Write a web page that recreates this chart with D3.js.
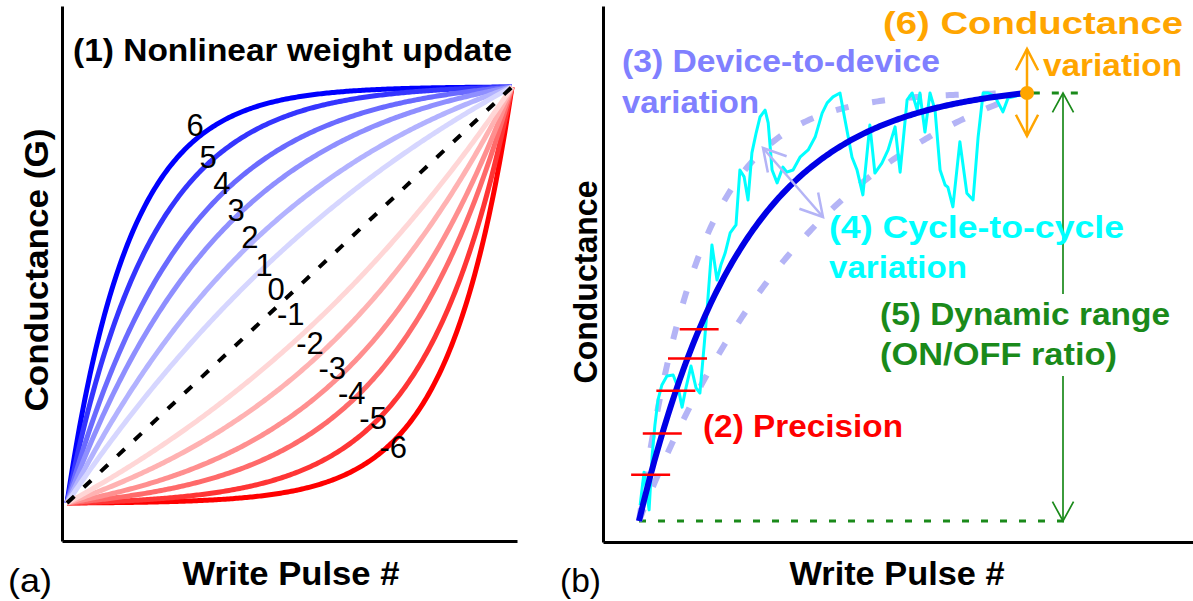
<!DOCTYPE html>
<html>
<head>
<meta charset="utf-8">
<script src="https://cdn.jsdelivr.net/npm/d3@7"></script>
<style>
  body { margin: 0; background: #fff; }
  svg { display: block; }
  text { font-family: Arial, "Liberation Sans", sans-serif; }
</style>
</head>
<body>
<svg id="fig" width="1193" height="601"></svg>
<script>
// ---------- Panel (a): nonlinear weight update ----------
// Nonlinearity label of every curve and its curvature constant (fraction of the pulse range)
const nlLabels    = [6, 5, 4, 3, 2, 1, 0, -1, -2, -3, -4, -5, -6];
const nlCurvature = [0.14, 0.19, 0.27, 0.37, 0.57, 1.0, 0, 1.0, 0.57, 0.37, 0.27, 0.19, 0.14];

// ---------- Panel (b): non-ideal device characteristics ----------
const pulseCount      = 100;
const idealCurvature  = 0.27;          // nominal device
const d2dCurvature    = [0.16, 0.50];  // fastest / slowest device
const precisionPulses = [3, 6, 9.5, 12.5, 15.5];
// one noisy programming cycle (pulse #, normalized conductance)
const c2cPulse = [0.3, 1.3, 2.6, 3.4, 4.1, 4.9, 5.9, 7.2, 8.8, 10.1, 11.1, 12.1, 13.4, 14.7, 15.7,
  16.8, 17.5, 18.8, 20.1, 21.1, 22.2, 23.5, 25.0, 26.0, 27.1, 28.1, 29.1, 30.2, 31.2, 32.5, 33.3,
  34.3, 35.6, 37.1, 38.1, 39.7, 41.5, 43.6, 45.4, 47.2, 48.5, 50.0, 51.8, 53.1, 54.9, 56.2, 57.7,
  59.5, 60.8, 62.6, 64.2, 66.0, 67.3, 69.1, 70.4, 71.7, 72.4, 73.7, 75.0, 76.3, 77.6, 78.9, 79.6,
  80.9, 82.7, 84.5, 86.1, 87.4, 88.7, 90.0, 91.8, 93.8, 95.1, 96.4];
const c2cConductance = [0.037, 0.114, 0.026, 0.154, 0.224, 0.283, 0.318, 0.339, 0.341, 0.311, 0.266,
  0.311, 0.362, 0.311, 0.299, 0.411, 0.488, 0.645, 0.563, 0.598, 0.626, 0.673, 0.692, 0.820, 0.804,
  0.750, 0.860, 0.907, 0.944, 0.960, 0.930, 0.820, 0.790, 0.827, 0.815, 0.820, 0.850, 0.867, 0.897,
  0.953, 0.977, 0.991, 1.000, 0.937, 0.850, 0.820, 0.762, 0.925, 0.813, 0.836, 0.867, 0.921, 0.815,
  0.984, 1.000, 0.960, 1.000, 0.909, 1.000, 0.960, 0.820, 0.785, 0.780, 0.734, 0.886, 0.766, 0.750,
  0.897, 1.000, 1.000, 0.991, 0.956, 0.988, 0.991];

// ---------- styling ----------
const blueShades = ["#0000ff", "#3535ff", "#6a6aff", "#8f8fff", "#b2b2ff", "#d6d6ff"];
const redShades  = ["#ffd6d6", "#ffb2b2", "#ff8f8f", "#ff6a6a", "#ff3535", "#ff0000"];
const lavender = "#8080ff", lavenderLight = "#b4b4f6";
const cyan = "#00ffff", green = "#1a8a1a", orange = "#ffa500";

const svg = d3.select("#fig");

// normalized saturating response: concave for k > 0, convex for k < 0, linear for k = 0
function response(p, a, sign) {
  if (sign === 0) return p;
  const f = q => (1 - Math.exp(-q / a)) / (1 - Math.exp(-1 / a));
  return sign > 0 ? f(p) : 1 - f(1 - p);
}

function addText(g, str, x, y, opt) {
  const t = g.append("text").attr("x", x).attr("y", y).text(str)
    .attr("font-size", opt.size).attr("font-weight", opt.bold ? "bold" : "normal")
    .attr("fill", opt.color || "#000");
  if (opt.len) t.attr("textLength", opt.len).attr("lengthAdjust", "spacingAndGlyphs");
  if (opt.anchor) t.attr("text-anchor", opt.anchor);
  if (opt.rotate) t.attr("transform", `rotate(-90,${x},${y})`);
  return t;
}

function vHead(g, tip, dir, len, spread, color, width) {
  // open "V" arrow head; dir = angle of travel (radians) arriving at the tip
  const pts = [dir + Math.PI - spread, dir + Math.PI + spread].map(a =>
    [tip[0] + len * Math.cos(a), tip[1] + len * Math.sin(a)]);
  g.append("path")
    .attr("d", `M${pts[0]}L${tip}L${pts[1]}`)
    .attr("fill", "none").attr("stroke", color).attr("stroke-width", width)
    .attr("stroke-linejoin", "miter");
}

// ================= Panel (a) =================
const gA = svg.append("g");
const xA = d3.scaleLinear([0, 1], [67, 512]);
const yA = d3.scaleLinear([0, 1], [503, 87]);
const frameXA = d3.scaleLinear([0, 1], [62, 517]);
const frameYA = d3.scaleLinear([0, 1], [541, 6]);

gA.append("g").attr("transform", "translate(0,541)")
  .call(d3.axisBottom(frameXA).tickValues([]).tickSizeOuter(0))
  .call(g => g.select(".domain").attr("stroke", "#000").attr("stroke-width", 3));
gA.append("g").attr("transform", "translate(62,0)")
  .call(d3.axisLeft(frameYA).tickValues([]).tickSizeOuter(0))
  .call(g => g.select(".domain").attr("stroke", "#000").attr("stroke-width", 3));

const pGrid = d3.range(0, 1.0001, 0.004);
const lineA = d3.line().x(d => xA(d[0])).y(d => yA(d[1]));

const curvesA = nlLabels.map((k, i) => ({
  k, a: nlCurvature[i],
  color: k > 0 ? blueShades[6 - k] : k < 0 ? redShades[-k - 1] : "#000"
}));
// blue family, then red family, then the linear reference on top
const drawOrder = [...curvesA.filter(c => c.k > 0), ...curvesA.filter(c => c.k < 0).reverse()];
gA.selectAll("path.nl").data(drawOrder).join("path").attr("class", "nl")
  .attr("d", c => lineA(pGrid.map(p => [p, response(p, c.a, Math.sign(c.k))])))
  .attr("fill", "none").attr("stroke", c => c.color).attr("stroke-width", 5)
  .attr("stroke-linecap", "butt");
gA.append("path")
  .attr("d", lineA([[0, 0], [1, 1]]))
  .attr("fill", "none").attr("stroke", "#000").attr("stroke-width", 4)
  .attr("stroke-dasharray", "10,13");

// curve labels, placed across the family
const labelSpots = [[0.288, 0.909], [0.317, 0.832], [0.348, 0.769], [0.380, 0.704], [0.411, 0.639],
  [0.443, 0.572], [0.470, 0.515], [0.503, 0.455], [0.546, 0.385], [0.596, 0.325], [0.640, 0.264],
  [0.688, 0.204], [0.733, 0.135]];
nlLabels.forEach((k, i) => {
  addText(gA, String(k), xA(labelSpots[i][0]), yA(labelSpots[i][1]), { size: 31, anchor: "middle" })
    .attr("dy", "0.36em");
});

addText(gA, "(1) Nonlinear weight update", 73, 61, { size: 32, bold: true, len: 439 });
addText(gA, "Conductance (G)", 48, 270, { size: 33, bold: true, anchor: "middle", rotate: true, len: 283 });
addText(gA, "Write Pulse #", 291, 585, { size: 33, bold: true, anchor: "middle", len: 217 });
addText(gA, "(a)", 8, 592, { size: 34, len: 44 });

// ================= Panel (b) =================
const gB = svg.append("g");
const xB = d3.scaleLinear([0, pulseCount], [639, 1027]);
const yB = d3.scaleLinear([0, 1], [521, 93]);
const frameXB = d3.scaleLinear([0, 1], [603, 1193]);
const frameYB = d3.scaleLinear([0, 1], [542, 6]);

gB.append("g").attr("transform", "translate(0,542)")
  .call(d3.axisBottom(frameXB).tickValues([]).tickSizeOuter(0))
  .call(g => g.select(".domain").attr("stroke", "#000").attr("stroke-width", 3));
gB.append("g").attr("transform", "translate(603,0)")
  .call(d3.axisLeft(frameYB).tickValues([]).tickSizeOuter(0))
  .call(g => g.select(".domain").attr("stroke", "#000").attr("stroke-width", 3));

const pulses = d3.range(0, pulseCount + 0.001, 0.5);
const lineB = d3.line().x(d => xB(d[0])).y(d => yB(d[1]));
const model = (p, a) => response(p / pulseCount, a, 1);

// dynamic range reference levels
gB.append("path").attr("d", lineB([[0, 0], [pulseCount * 1.11, 0]]))
  .attr("stroke", green).attr("stroke-width", 3).attr("stroke-dasharray", "7,12").attr("fill", "none");
gB.append("path").attr("d", lineB([[pulseCount * 1.015, 1], [pulseCount * 1.14, 1]]))
  .attr("stroke", green).attr("stroke-width", 3).attr("stroke-dasharray", "7,12").attr("fill", "none");

// device-to-device spread
gB.selectAll("path.d2d").data(d2dCurvature).join("path").attr("class", "d2d")
  .attr("d", a => lineB(pulses.map(p => [p, model(p, a)])))
  .attr("fill", "none").attr("stroke", lavenderLight).attr("stroke-width", 6)
  .attr("stroke-dasharray", "13,24");

// cycle-to-cycle trace
gB.append("path")
  .attr("d", lineB(c2cPulse.map((p, i) => [p, c2cConductance[i]]).concat([[pulseCount, 1]])))
  .attr("fill", "none").attr("stroke", cyan).attr("stroke-width", 3).attr("stroke-linejoin", "round");

// nominal curve
gB.append("path")
  .attr("d", lineB(pulses.map(p => [p, model(p, idealCurvature)])))
  .attr("fill", "none").attr("stroke", "#0000e6").attr("stroke-width", 6);

// precision levels
gB.selectAll("line.prec").data(precisionPulses).join("line").attr("class", "prec")
  .attr("x1", p => xB(p) - 19.5).attr("x2", p => xB(p) + 19.5)
  .attr("y1", p => yB(model(p, idealCurvature))).attr("y2", p => yB(model(p, idealCurvature)))
  .attr("stroke", "#ff0000").attr("stroke-width", 2.5);

// cycle-to-cycle double arrow
{
  const a0 = [763, 148], a1 = [823, 217];
  const ang = Math.atan2(a1[1] - a0[1], a1[0] - a0[0]);
  gB.append("line").attr("x1", a0[0]).attr("y1", a0[1]).attr("x2", a1[0]).attr("y2", a1[1])
    .attr("stroke", lavenderLight).attr("stroke-width", 2.5);
  vHead(gB, a1, ang, 25, 0.52, lavenderLight, 2.5);
  vHead(gB, a0, ang + Math.PI, 25, 0.52, lavenderLight, 2.5);
}

// conductance variation arrow at the saturation point
{
  const cx = xB(pulseCount), cy = yB(1);
  gB.append("line").attr("x1", cx).attr("x2", cx).attr("y1", 49).attr("y2", 136)
    .attr("stroke", orange).attr("stroke-width", 2.5);
  vHead(gB, [cx, 49], -Math.PI / 2, 24, 0.48, orange, 2.5);
  vHead(gB, [cx, 136], Math.PI / 2, 24, 0.48, orange, 2.5);
  gB.append("circle").attr("cx", cx).attr("cy", cy).attr("r", 7).attr("fill", orange);
}

// annotations
addText(gB, "(3) Device-to-device", 622, 72, { size: 32, bold: true, color: lavender, len: 318 });
addText(gB, "variation", 622, 113, { size: 32, bold: true, color: lavender, len: 137 });
addText(gB, "(6) Conductance", 883, 34, { size: 32, bold: true, color: orange, len: 300 });
addText(gB, "variation", 1043, 76, { size: 32, bold: true, color: orange, len: 139 });
addText(gB, "(2) Precision", 703, 437, { size: 32, bold: true, color: "#ff0000", len: 200 });

// dynamic range arrow, broken around its label
const drTop = addText(gB, "(5) Dynamic range", 880, 325, { size: 32, bold: true, color: green, len: 290 });
const drBot = addText(gB, "(ON/OFF ratio)", 880, 365, { size: 32, bold: true, color: green, len: 237 });
{
  const ax = 1063;
  const b1 = drTop.node().getBBox(), b2 = drBot.node().getBBox();
  const gapTop = b1.y - 2, gapBot = b2.y + b2.height + 4;
  gB.append("line").attr("x1", ax).attr("x2", ax).attr("y1", yB(1)).attr("y2", gapTop)
    .attr("stroke", green).attr("stroke-width", 1.7);
  gB.append("line").attr("x1", ax).attr("x2", ax).attr("y1", gapBot).attr("y2", yB(0))
    .attr("stroke", green).attr("stroke-width", 1.7);
  vHead(gB, [ax, yB(1)], -Math.PI / 2, 22, 0.5, green, 1.7);
  vHead(gB, [ax, yB(0)], Math.PI / 2, 22, 0.5, green, 1.7);
}

addText(gB, "(4) Cycle-to-cycle", 829, 238, { size: 32, bold: true, color: cyan, len: 295 });
addText(gB, "variation", 829, 278, { size: 32, bold: true, color: cyan, len: 138 });

addText(gB, "Conductance", 597, 282, { size: 33, bold: true, anchor: "middle", rotate: true, len: 203 });
addText(gB, "Write Pulse #", 897, 585, { size: 33, bold: true, anchor: "middle", len: 215 });
addText(gB, "(b)", 560, 592, { size: 34, len: 41 });
</script>
</body>
</html>
